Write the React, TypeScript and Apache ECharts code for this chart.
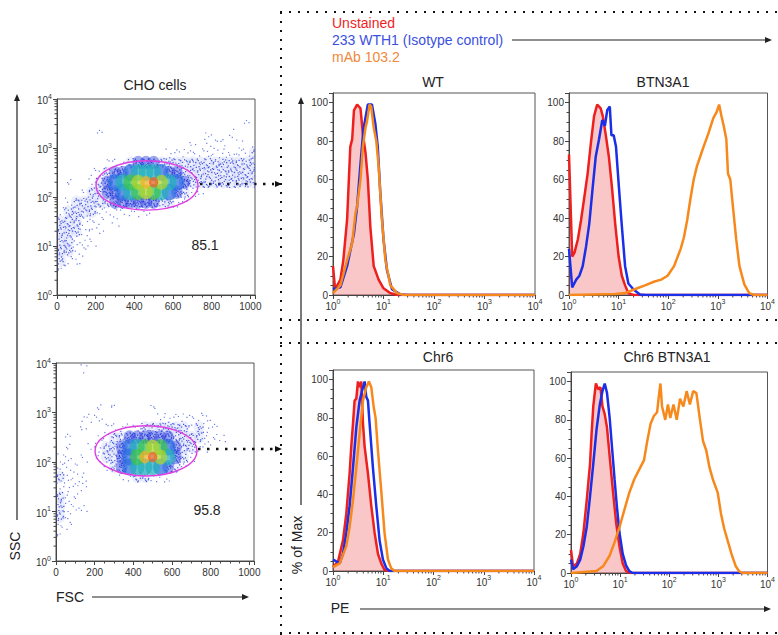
import React, { useEffect, useRef } from 'react';
import * as echarts from 'echarts';

const FONT = 'Liberation Sans, Arial, Helvetica, sans-serif';

// ---------- Scatter (FSC vs SSC) density ----------
// Each string is one SSC row of 0.2 decade (top row = 10^3.8..10^4), each char one 40-unit FSC bin.
const FSC_BIN = 40;
const SSC_STEP = 0.2;
const topDensity = [
  '00000000000000000000000000',
  '00000000000000000000000000',
  '00000000000000000000000010',
  '00000100000000000001001000',
  '00000000000000000101110101',
  '00000000000000111111111112',
  '00000011123332222222222222',
  '00001123345554332222222222',
  '01001234567897543222222222',
  '00012233456765432110000000',
  '01222223333332211000000000',
  '12222111111100000000000000',
  '22211101000000000000000000',
  '22211100000000000000000000',
  '22111000000000000000000000',
  '22110000000000000000000000',
  '21100000000000000000000000',
  '10000000000000000000000000',
  '00000000000000000000000000',
  '00000000000000000000000000',
];
const bottomDensity = [
  '00010000000000000000000000',
  '00000000000000000000000000',
  '00000000000000000000000000',
  '00000000000000000000000000',
  '00000101000010000000000000',
  '00011100000001111111000000',
  '00010011111222222121100000',
  '01000112233333322221110000',
  '01001122345676432211000000',
  '11010122346897532100000000',
  '11100012345554321000000000',
  '21110000112211100000000000',
  '11110000000000000000000000',
  '21100000000000000000000000',
  '21110000000000000000000000',
  '21000000000000000000000000',
  '11000000000000000000000000',
  '10000000000000000000000000',
  '00000000000000000000000000',
  '00000000000000000000000000',
];
const gateFSC = [202, 729];
const gateSSCTop = [54, 550];
const gateSSCBottom = [52, 540];
const gatePercents = ['85.1', '95.8'];

const logMinorTicks = [
  2, 3, 4, 5, 6, 7, 8, 9,
  20, 30, 40, 50, 60, 70, 80, 90,
  200, 300, 400, 500, 600, 700, 800, 900,
  2000, 3000, 4000, 5000, 6000, 7000, 8000, 9000,
];

// ---------- Histograms: [PE, % of Max] ----------
const wtUnstained = [[1, 15], [1.1, 3], [1.4, 8], [1.6, 18], [1.9, 39], [2.2, 77], [2.4, 81], [2.6, 96], [3, 99], [3.5, 97], [3.9, 84], [4.4, 74], [4.9, 60], [5.5, 35], [6.4, 15], [8, 8], [10, 3.5], [13.5, 1], [18.5, 0], [10000, 0]];
const wtIsotype = [[1, 3], [1.4, 4], [1.9, 15], [2.6, 32], [3, 46], [3.5, 68], [4, 86], [4.9, 99], [5.9, 99], [6.9, 89], [7.7, 77], [8.6, 54], [10, 29], [11.7, 13], [14.7, 3], [21.5, 0.3], [30, 0], [10000, 0]];
const wtMab = [[1, 1], [1.4, 5], [1.9, 18], [2.4, 27], [2.8, 43], [3, 46], [3.5, 60], [3.9, 77], [4.4, 87], [4.7, 90], [5.3, 99], [5.7, 98], [6.4, 87], [7.2, 80], [8, 67], [9.3, 39], [10.9, 18], [13.7, 5], [18.5, 1], [25, 0], [10000, 0]];

const btnUnstained = [[1, 73], [1.16, 20], [1.29, 22], [1.51, 29], [1.75, 39], [2.04, 51], [2.37, 63], [2.76, 79], [3.2, 93], [3.7, 99], [4.35, 97], [4.8, 93], [5.45, 84], [6.35, 72], [7.4, 55], [8.6, 36], [10, 20], [11.6, 10], [13.5, 5], [15.7, 1], [20, 0], [10000, 0]];
const btnIsotype = [[1, 24], [1.16, 4], [1.4, 8], [1.62, 10], [1.89, 15], [2.2, 25], [2.56, 37], [2.98, 55], [3.46, 72], [4.03, 81], [4.69, 91], [5.29, 88], [5.89, 96], [6.64, 98], [7.16, 83], [7.96, 83], [8.86, 77], [10, 58], [11.6, 36], [13.5, 15], [15.7, 6], [19.8, 3], [26.8, 0.3], [35, 0], [10000, 0]];
const btnMab = [[1, 0], [8.6, 0.5], [13.5, 1], [21, 3], [34, 5], [53, 7], [72, 8], [97, 10], [131, 15], [178, 24], [207, 30], [241, 39], [280, 50], [326, 60], [379, 67], [441, 72], [514, 77], [645, 84], [809, 92], [942, 95], [1060, 99], [1180, 93], [1310, 88], [1480, 81], [1600, 63], [1780, 60], [2010, 46], [2340, 29], [2720, 15], [3410, 5.5], [4290, 1], [5370, 0], [10000, 0]];

const chrUnstained = [[1, 2], [1.26, 5], [1.58, 16], [1.84, 30], [2.14, 51], [2.31, 65], [2.5, 77], [2.69, 89], [2.91, 90], [3.14, 99], [3.39, 96], [3.66, 99], [3.95, 77], [4.26, 65], [4.96, 51], [5.78, 34], [6.73, 20], [7.84, 9], [9.12, 4], [10.6, 0.5], [13, 0], [10000, 0]];
const chrIsotype = [[1, 6], [1.16, 5], [1.36, 4], [1.58, 9], [1.84, 20], [2.14, 34], [2.5, 54], [2.91, 75], [3.39, 89], [3.95, 96], [4.26, 99], [4.59, 91], [4.96, 89], [5.35, 77], [6.23, 54], [7.26, 34], [8.45, 16], [9.85, 6], [11.5, 1.5], [13.4, 0], [10000, 0]];
const chrMab = [[1, 2], [1.36, 4], [1.84, 13], [2.14, 23], [2.5, 37], [2.91, 54], [3.39, 72], [3.95, 89], [4.59, 96], [5.19, 99], [5.78, 96], [6.43, 86], [7.04, 80], [7.84, 63], [9.12, 42], [10.6, 20], [12.4, 6], [14.4, 1.4], [16.8, 0], [10000, 0]];

const chrBtnUnstained = [[1, 12], [1.1, 3.5], [1.32, 5], [1.54, 10], [1.79, 21], [2.09, 38], [2.44, 57], [2.63, 73], [2.84, 87], [3.21, 99], [3.58, 96], [3.98, 97], [4.37, 87], [4.86, 83], [5.41, 76], [6.12, 61], [7.13, 43], [8.32, 26], [9.7, 14], [11.3, 5], [13.2, 1], [16, 0], [10000, 0]];
const chrBtnIsotype = [[1, 7], [1.1, 2], [1.32, 3.5], [1.54, 7], [1.79, 14], [2.09, 24], [2.44, 40], [2.84, 57], [3.31, 75], [3.86, 88], [4.37, 95], [4.86, 99], [5.41, 94], [6.12, 81], [6.92, 64], [7.7, 49], [8.58, 35], [9.7, 21], [11.3, 10], [13.2, 4], [15.4, 1], [17.9, 0], [10000, 0]];
const chrBtnMab = [[1, 0], [3.3, 1], [4.5, 3.5], [6.1, 9], [7.7, 16], [9.7, 24], [12.2, 33], [15.4, 42], [19.4, 49], [24.4, 54], [30.7, 59], [35.7, 69], [41.7, 78], [48.6, 82], [56.6, 84], [61.2, 92], [66.1, 99], [71.3, 87], [83, 80], [94, 88], [105, 81], [122, 88], [142, 80], [166, 91], [194, 87], [226, 95], [263, 88], [307, 95], [357, 94], [417, 81], [486, 69], [567, 64], [661, 55], [771, 49], [970, 42], [1130, 31], [1320, 23], [1540, 17], [1850, 10], [2260, 3.5], [2630, 1], [3070, 0], [10000, 0]];

const legendNames = ['Unstained', '233 WTH1 (Isotype control)', 'mAb 103.2'];
const panelTitles = ['WT', 'BTN3A1', 'Chr6', 'Chr6 BTN3A1'];
const panelData = [
  [wtUnstained, wtIsotype, wtMab],
  [btnUnstained, btnIsotype, btnMab],
  [chrUnstained, chrIsotype, chrMab],
  [chrBtnUnstained, chrBtnIsotype, chrBtnMab],
];

const RED = '#ee1f1f';
const BLUE = '#1b2ee8';
const ORANGE = '#f7891c';
// speckle pattern (fractional positions inside a density cell) used to draw sparse cells as dots
const DOT_PATTERN = [
  [0.13, 0.27], [0.62, 0.71], [0.38, 0.09], [0.86, 0.44], [0.21, 0.83], [0.55, 0.35],
  [0.93, 0.92], [0.07, 0.58], [0.71, 0.16], [0.44, 0.62], [0.29, 0.47], [0.81, 0.77],
  [0.03, 0.05], [0.66, 0.52], [0.49, 0.94], [0.17, 0.12], [0.91, 0.23], [0.35, 0.74],
  [0.76, 0.03], [0.58, 0.86], [0.25, 0.66], [0.84, 0.59], [0.11, 0.4], [0.47, 0.21],
];
const LEVEL_DOTS = [0, 3, 9, 16];
const LEVEL_COLORS = ['', '#6a7ce8', '#4055e0', '#2a3fda', '#2a6ee0', '#22aebc', '#3cc44a', '#aed42c', '#eeae22', '#e65a24'];
const LEVEL_SIZE = [0, 0, 0, 0, 0.95, 0.95, 0.92, 0.85, 0.72, 0.6];

const grids = [
  { left: 57, top: 99, width: 198, height: 196 },
  { left: 56, top: 363, width: 198, height: 198 },
  { left: 333, top: 93, width: 202, height: 202 },
  { left: 569, top: 93, width: 203, height: 202 },
  { left: 333, top: 370, width: 201, height: 201 },
  { left: 571, top: 372, width: 200, height: 201 },
];

const supFormatter = (v: number) => `{b|10}{s|${Math.round(Math.log10(v))}}`;
const supRich = {
  b: { fontSize: 10, color: '#333', fontFamily: FONT, verticalAlign: 'bottom', lineHeight: 13, padding: [4, 0, 0, 0] },
  s: { fontSize: 7, color: '#333', fontFamily: FONT, verticalAlign: 'top', lineHeight: 8 },
};
const axisLineStyle = { lineStyle: { color: '#444', width: 1 } };

function densityData(rows: string[]) {
  const out: number[][] = [];
  const n = rows.length;
  rows.forEach((row, i) => {
    const r = n - 1 - i;
    for (let c = 0; c < row.length; c++) {
      const lvl = Number(row[c]);
      if (lvl > 0) out.push([c * FSC_BIN, Math.pow(10, r * SSC_STEP), lvl]);
    }
  });
  return out.sort((a, b) => a[2] - b[2]);
}

function arrowHead(x: number, y: number, dir: 'up' | 'right', color = '#222') {
  const pts = dir === 'up'
    ? [[x, y], [x - 3, y + 7], [x + 3, y + 7]]
    : [[x, y], [x - 7, y - 3], [x - 7, y + 3]];
  return { type: 'polygon', shape: { points: pts }, style: { fill: color }, silent: true };
}

function text(t: string, x: number, y: number, opts: any = {}) {
  return {
    type: 'text', x, y, rotation: opts.rotation || 0,
    style: {
      text: t, fill: opts.color || '#222', font: `${opts.size || 14}px ${FONT}`,
      textAlign: opts.align || 'center', textVerticalAlign: 'middle',
    },
  };
}

function line(x1: number, y1: number, x2: number, y2: number, dotted = 0) {
  return {
    type: 'line', shape: { x1, y1, x2, y2 },
    style: dotted
      ? { stroke: '#111', lineWidth: dotted, lineDash: [dotted, 9 - dotted] }
      : { stroke: '#222', lineWidth: 1.2 },
    silent: true,
  };
}

export default function App() {
  const ref = useRef<HTMLDivElement>(null);
  useEffect(() => {
    if (!ref.current) return;
    const chart = echarts.init(ref.current, null, { renderer: 'svg' });

    const xAxes: any[] = [];
    const yAxes: any[] = [];
    for (let g = 0; g < 2; g++) {
      xAxes.push({
        gridIndex: g, type: 'value', min: 0, max: 1024, interval: 200,
        axisLine: axisLineStyle, axisTick: { length: 4, lineStyle: { color: '#444' } },
        minorTick: { show: true, splitNumber: 4, length: 2.5, lineStyle: { color: '#444' } },
        axisLabel: { fontSize: 10, color: '#333', fontFamily: FONT, margin: 6, showMaxLabel: false, formatter: (v: number) => String(v) },
        splitLine: { show: false },
      });
      yAxes.push({
        gridIndex: g, type: 'log', logBase: 10, min: 1, max: 10000,
        axisLine: axisLineStyle, axisTick: { length: 4, lineStyle: { color: '#444' } },
        axisLabel: { formatter: supFormatter, rich: supRich, margin: 5 },
        splitLine: { show: false },
      });
    }
    for (let g = 2; g < 6; g++) {
      xAxes.push({
        gridIndex: g, type: 'log', logBase: 10, min: 1, max: 10000,
        axisLine: axisLineStyle, axisTick: { length: 4, lineStyle: { color: '#444' } },
        axisLabel: { formatter: supFormatter, rich: supRich, margin: 3 },
        splitLine: { show: false },
      });
      yAxes.push({
        gridIndex: g, type: 'value', min: 0, max: 105, interval: 20,
        axisLine: axisLineStyle, axisTick: { length: 4, lineStyle: { color: '#444' } },
        minorTick: { show: true, splitNumber: 4, length: 2.5, lineStyle: { color: '#444' } },
        axisLabel: { fontSize: 10, color: '#333', fontFamily: FONT, margin: 5, showMaxLabel: false },
        splitLine: { show: false },
      });
    }

    const series: any[] = [];
    const scatterSets = [
      { rows: topDensity, ssc: gateSSCTop },
      { rows: bottomDensity, ssc: gateSSCBottom },
    ];
    scatterSets.forEach((s, g) => {
      series.push({
        type: 'custom', xAxisIndex: g, yAxisIndex: g, clip: true, silent: true,
        encode: { x: 0, y: 1 },
        data: densityData(s.rows),
        renderItem: (_p: any, api: any) => {
          const x = api.value(0), y = api.value(1), lvl = api.value(2);
          const a = api.coord([x, y * Math.pow(10, SSC_STEP)]);
          const b = api.coord([x + FSC_BIN, y]);
          const w = b[0] - a[0], h = b[1] - a[1];
          const c = Math.round(x / FSC_BIN), r = Math.round(Math.log10(y) / SSC_STEP);
          const offset = (c * 7 + r * 11) % DOT_PATTERN.length;
          const flip = (c + r) % 2 === 1;
          const children: any[] = [];
          if (lvl <= 3) {
            if (lvl === 3) {
              children.push({ type: 'ellipse', shape: { cx: a[0] + w / 2, cy: a[1] + h / 2, rx: w * 0.75, ry: h * 0.7 }, style: { fill: 'rgba(40,60,222,0.45)' } });
            } else if (lvl === 2) {
              children.push({ type: 'ellipse', shape: { cx: a[0] + w / 2, cy: a[1] + h / 2, rx: w * 0.7, ry: h * 0.65 }, style: { fill: 'rgba(70,90,230,0.10)' } });
            }
            const n = LEVEL_DOTS[lvl];
            for (let i = 0; i < n; i++) {
              const p = DOT_PATTERN[(i + offset) % DOT_PATTERN.length];
              const px = flip ? 1 - p[0] : p[0];
              const py = flip ? 1 - p[1] : p[1];
              children.push({ type: 'rect', shape: { x: a[0] + px * w, y: a[1] + py * h, width: 1.2, height: 1.2 }, style: { fill: LEVEL_COLORS[lvl] } });
            }
          } else {
            const k = LEVEL_SIZE[lvl];
            children.push({
              type: 'ellipse',
              shape: { cx: a[0] + w / 2, cy: a[1] + h / 2, rx: w * k, ry: h * k * 0.9 },
              style: { fill: LEVEL_COLORS[lvl], opacity: 0.72 },
            });
          }
          return { type: 'group', children };
        },
      });
      series.push({
        type: 'custom', xAxisIndex: g, yAxisIndex: g, silent: true, encode: { x: 0, y: 1 },
        data: [[(gateFSC[0] + gateFSC[1]) / 2, Math.sqrt(s.ssc[0] * s.ssc[1])]],
        z: 5,
        renderItem: (_p: any, api: any) => {
          const a = api.coord([gateFSC[0], s.ssc[1]]);
          const b = api.coord([gateFSC[1], s.ssc[0]]);
          return {
            type: 'ellipse',
            shape: { cx: (a[0] + b[0]) / 2, cy: (a[1] + b[1]) / 2, rx: (b[0] - a[0]) / 2, ry: (b[1] - a[1]) / 2 },
            style: { fill: 'none', stroke: '#e03ee0', lineWidth: 1.4 },
          };
        },
      });
      series.push({
        type: 'custom', xAxisIndex: g, yAxisIndex: g, silent: true, clip: false, encode: { x: 0, y: 1 },
        data: logMinorTicks.map((v) => [0, v]),
        renderItem: (_p: any, api: any) => {
          const p = api.coord([0, api.value(1)]);
          return { type: 'line', shape: { x1: p[0] - 2.5, y1: p[1], x2: p[0], y2: p[1] }, style: { stroke: '#444', lineWidth: 1 } };
        },
      });
    });

    panelData.forEach((sets, i) => {
      const g = i + 2;
      const colors = [RED, BLUE, ORANGE];
      sets.forEach((d, k) => {
        series.push({
          type: 'line', name: legendNames[k], xAxisIndex: g, yAxisIndex: g, data: d,
          symbol: 'none', silent: true,
          lineStyle: { color: colors[k], width: 2.5 },
          areaStyle: k === 0 ? { color: 'rgba(236,64,64,0.42)', origin: 'start' } : undefined,
          z: 2 + k,
        });
      });
      series.push({
        type: 'custom', xAxisIndex: g, yAxisIndex: g, silent: true, clip: false, encode: { x: 0, y: 1 },
        data: logMinorTicks.map((v) => [v, 0]),
        renderItem: (_p: any, api: any) => {
          const p = api.coord([api.value(0), 0]);
          return { type: 'line', shape: { x1: p[0], y1: p[1], x2: p[0], y2: p[1] + 2.5 }, style: { stroke: '#444', lineWidth: 1 } };
        },
      });
    });

    const graphics: any[] = [
      line(280, 12, 778, 12, 2),
      line(281, 12, 281, 635, 2),
      line(280, 320, 778, 320, 2),
      line(280, 343, 778, 343, 2),
      line(280, 633, 778, 633, 2),
      line(200, 184, 274, 184, 2.5), arrowHead(282, 184, 'right', '#111'),
      line(198, 449, 274, 449, 2.5), arrowHead(282, 449, 'right', '#111'),
      line(17, 520, 17, 100), arrowHead(17, 94, 'up'),
      text('SSC', 15, 546, { rotation: Math.PI / 2 }),
      text('FSC', 70, 597),
      line(92, 597, 243, 597), arrowHead(249, 597, 'right'),
      text('CHO cells', 155, 85),
      text(gatePercents[0], 205, 245),
      text(gatePercents[1], 207, 510),
      text(legendNames[0], 332, 23, { color: RED, align: 'left' }),
      text(legendNames[1], 332, 40, { color: '#3b4fe0', align: 'left' }),
      text(legendNames[2], 332, 57, { color: '#f0883a', align: 'left' }),
      line(512, 40, 766, 40), arrowHead(772, 40, 'right'),
      text(panelTitles[0], 433, 82),
      text(panelTitles[1], 663, 82),
      text(panelTitles[2], 438, 357),
      text(panelTitles[3], 667, 357),
      line(301, 505, 301, 103), arrowHead(301, 97, 'up'),
      text('% of Max', 297, 545, { rotation: Math.PI / 2 }),
      text('PE', 340, 608),
      line(360, 609, 764, 609), arrowHead(771, 609, 'right'),
    ];

    chart.setOption({
      animation: false,
      backgroundColor: '#ffffff',
      grid: grids.map((g) => ({ ...g, show: true, borderColor: '#555', borderWidth: 1, backgroundColor: 'transparent', containLabel: false })),
      xAxis: xAxes,
      yAxis: yAxes,
      series,
      graphic: graphics,
    });
    return () => chart.dispose();
  }, []);
  return <div ref={ref} style={{ position: 'absolute', left: 0, top: 0, width: 778, height: 635 }} />;
}
